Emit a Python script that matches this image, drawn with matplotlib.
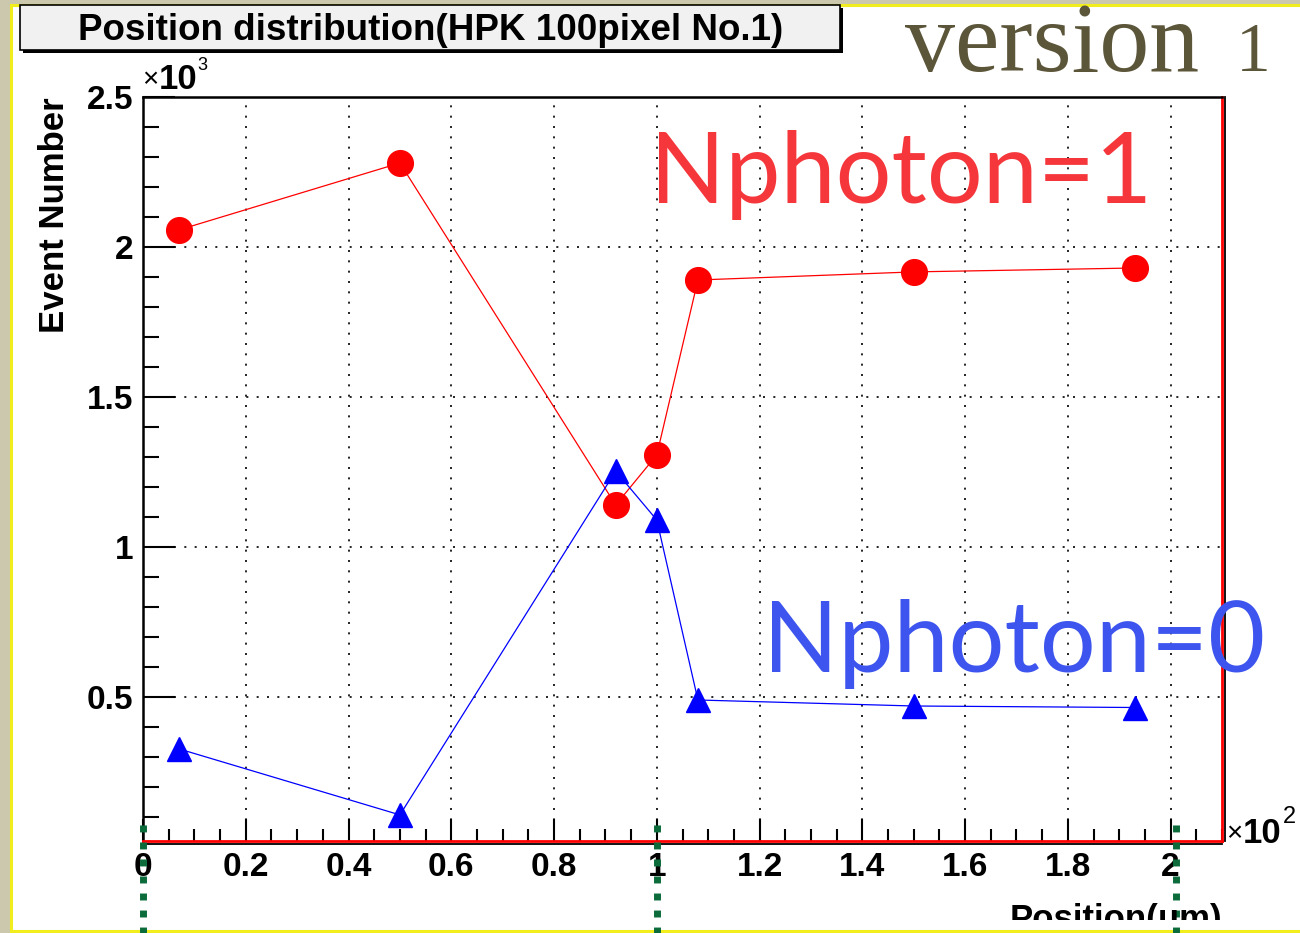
import matplotlib
matplotlib.use('Agg')
import matplotlib.pyplot as plt
import matplotlib.patches as patches
import matplotlib.transforms as mtransforms
from matplotlib.lines import Line2D
from matplotlib.ticker import MultipleLocator, FuncFormatter

# position scan, HPK 100 pixel No.1
pos_um = [7, 50, 92, 100, 108, 150, 193]
n_photon1 = [2057, 2280, 1140, 1307, 1890, 1917, 1930]
n_photon0 = [327, 107, 1253, 1090, 490, 470, 465]
marker_lines = [0, 100, 201]

W, H = 1300, 933
def fx(px):
    return px / W
def fy(py):
    return 1 - py / H

plt.rcParams['font.family'] = ['Liberation Sans', 'DejaVu Sans']

fig = plt.figure(figsize=(13, 9.33), dpi=100, facecolor='#cbc8ae')

# white canvas with yellow frame
fig.patches.append(patches.Rectangle((fx(11), fy(931)), fx(1300) - fx(11) + 0.01, fy(5) - fy(931),
                                     transform=fig.transFigure, facecolor='white',
                                     edgecolor='#f2ee1e', lw=2.2, zorder=-5))

ax = fig.add_axes([fx(143), fy(841), fx(1222) - fx(143), fy(97) - fy(841)])
ax.set_zorder(1)
ax.set_facecolor('white')
ax.set_xlim(0, 210)
ax.set_ylim(20, 2500)

ax.plot(pos_um, n_photon1, color='red', lw=0.9, marker='o', ms=18.5,
        mfc='red', mec='red', zorder=3, clip_on=False)
ax.plot(pos_um, n_photon0, color='blue', lw=0.9, marker='^', ms=17,
        mfc='blue', mec='blue', zorder=3, clip_on=False)

ax.xaxis.set_major_locator(MultipleLocator(20))
ax.xaxis.set_minor_locator(MultipleLocator(5))
ax.yaxis.set_major_locator(MultipleLocator(500))
ax.yaxis.set_minor_locator(MultipleLocator(100))
ax.xaxis.set_major_formatter(FuncFormatter(lambda v, p: f'{v / 100:g}'))
ax.yaxis.set_major_formatter(FuncFormatter(lambda v, p: f'{v / 1000:g}'))

ax.tick_params(axis='both', which='both', direction='in', top=False, right=False,
               width=1.5, colors='black', labelsize=24)
ax.tick_params(axis='x', which='major', length=16, pad=8)
ax.tick_params(axis='x', which='minor', length=8.5)
ax.tick_params(axis='y', which='major', length=23, pad=7)
ax.tick_params(axis='y', which='minor', length=11.5)
for lab in ax.get_xticklabels() + ax.get_yticklabels():
    lab.set_fontweight('bold')

ax.grid(True, which='major', color='black', linestyle=(0, (1.2, 5)), lw=1.2)

for side in ['left', 'top']:
    ax.spines[side].set_color('black')
    ax.spines[side].set_linewidth(1.8)
for side in ['right', 'bottom']:
    ax.spines[side].set_color('red')
    ax.spines[side].set_linewidth(2)
down = mtransforms.offset_copy(ax.transAxes, fig=fig, x=0, y=-2.5, units='dots')
right = mtransforms.offset_copy(ax.transAxes, fig=fig, x=2.5, y=0, units='dots')
ax.add_line(Line2D([0, 1], [0, 0], transform=down, color='black', lw=1.3, clip_on=False))
ax.add_line(Line2D([1, 1], [0, 1], transform=right, color='black', lw=1.3, clip_on=False))

# dotted green markers under the x axis
for xv in marker_lines:
    ax.axvline(xv, ymin=-0.13, ymax=0.035, color='#0b6b3b', lw=5,
               linestyle=(0, (1, 1.45)), clip_on=False, zorder=5)

# title box with shadow
fig.patches.append(patches.Rectangle((fx(23), fy(53)), fx(843) - fx(23), fy(8) - fy(53),
                                     transform=fig.transFigure, facecolor='black', zorder=2))
fig.patches.append(patches.Rectangle((fx(20), fy(50)), fx(840) - fx(20), fy(5) - fy(50),
                                     transform=fig.transFigure, facecolor='#f1f1f1',
                                     edgecolor='black', lw=1.2, zorder=2.5))
fig.text(fx(431), fy(30), 'Position distribution(HPK 100pixel No.1)', fontsize=26.5,
         fontweight='bold', ha='center', va='center', zorder=3)

serif = ['Liberation Serif', 'DejaVu Serif']
fig.text(fx(905), fy(71), 'version', fontsize=72, color='#5b5539',
         family=serif, ha='left', va='baseline')
fig.text(fx(1236), fy(71), '1', fontsize=50, color='#5b5539',
         family=serif, ha='left', va='baseline')

fig.text(fx(650), fy(203), 'Nphoton=1', fontsize=71, color='#f5373c',
         family=['Lato', 'DejaVu Sans'], ha='left', va='baseline', zorder=4)
fig.text(fx(763), fy(672), 'Nphoton=0', fontsize=71, color='#3d55ee',
         family=['Lato', 'DejaVu Sans'], ha='left', va='baseline', zorder=4)

fig.text(fx(55), fy(215), 'Event Number', fontsize=25, fontweight='bold',
         rotation=90, ha='center', va='center')

# exponent labels
fig.text(fx(142), fy(87), '×', fontsize=20, ha='left', va='baseline')
fig.text(fx(159), fy(89), '10', fontsize=25, fontweight='bold', ha='left', va='baseline')
fig.text(fx(197), fy(70), '3', fontsize=13, ha='left', va='baseline')
fig.text(fx(1226), fy(841), '×', fontsize=20, ha='left', va='baseline')
fig.text(fx(1243), fy(843), '10', fontsize=25, fontweight='bold', ha='left', va='baseline')
fig.text(fx(1283), fy(823), '2', fontsize=17, ha='left', va='baseline')

xl = fig.text(fx(1222), fy(929), 'Position(μm)', fontsize=25, fontweight='bold',
              ha='right', va='baseline')
xl.set_clip_box(mtransforms.Bbox([[0, fy(920) * H], [W, H]]))

fig.savefig('out.png', dpi=100, facecolor=fig.get_facecolor())
